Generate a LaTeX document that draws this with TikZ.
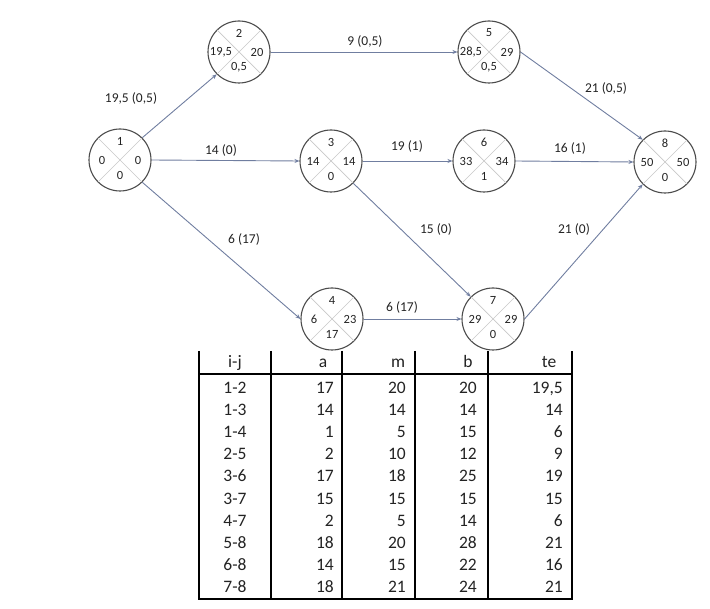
\documentclass[tikz,border=0pt]{standalone}
\usepackage{fontspec}
\setmainfont{Carlito}
\usetikzlibrary{arrows.meta}
\definecolor{edgecol}{RGB}{112,126,160}
\definecolor{circcol}{RGB}{75,75,75}
\definecolor{crosscol}{RGB}{200,200,200}
\definecolor{txtcol}{RGB}{35,35,35}
\tikzset{
  evcirc/.style={circle,draw=circcol,line width=1.1pt,minimum size=62pt,inner sep=0pt},
  evcross/.style={draw=crosscol,line width=0.7pt},
  evtxt/.style={font=\fontsize{12.5}{14}\selectfont,text=txtcol,inner sep=0pt},
  edgelbl/.style={font=\fontsize{13.5}{15}\selectfont,text=txtcol,inner sep=0pt},
  arc/.style={draw=edgecol,line width=0.9pt,-{Stealth[length=5pt,width=4pt]}},
  tabtxt/.style={font=\fontsize{17.5}{20}\selectfont,text=txtcol,inner sep=0pt,anchor=base},
  tabr/.style={tabtxt,anchor=base east},
  tabline/.style={draw=black,line width=1.1pt}
}
\newcommand{\evt}[7]{%
  \node[evcirc] (#1) at (#2,#3) {};
  \draw[evcross] (#1.45) -- (#1.225);
  \draw[evcross] (#1.135) -- (#1.315);
  \node[evtxt] (#1t) at ([yshift=19pt]#1.center) {#4};
  \node[evtxt] (#1l) at ([xshift=-18pt]#1.center) {#5};
  \node[evtxt] (#1r) at ([xshift=18pt]#1.center) {#6};
  \node[evtxt] (#1b) at ([yshift=-15pt]#1.center) {#7};
}
\begin{document}
\begin{tikzpicture}[x=1pt,y=-1pt]
\useasboundingbox (0,0) rectangle (710,609);
% events
\evt{n1}{120}{160}{1}{0}{0}{0}
\evt{n2}{239}{52}{2}{19,5}{20}{0,5}
\evt{n3}{331}{161}{3}{14}{14}{0}
\evt{n4}{332}{319}{4}{6}{23}{17}
\evt{n5}{489}{52}{5}{28,5}{29}{0,5}
\evt{n6}{484}{161}{6}{33}{34}{1}
\evt{n7}{493}{319}{7}{29}{29}{0}
\evt{n8}{665}{162}{8}{50}{50}{0}
% activities
\draw[arc] (n1.north east) -- (n2.south west);
\draw[arc] (n1.east) -- (n3.west);
\draw[arc] (n1.south east) -- (n4.west);
\draw[arc] (n2.east) -- (n5.west);
\draw[arc] (n3.east) -- (n6.west);
\draw[arc] (n3.south east) -- (n7.north west);
\draw[arc] (n4.east) -- (n7.west);
\draw[arc] (n5.east) -- (n8.north west);
\draw[arc] (n6.east) -- (n8.west);
\draw[arc] (n7.east) -- (n8.south west);
% activity labels
\node[edgelbl] (l12) at (131,99) {19,5 (0,5)};
\node[edgelbl] (l25) at (365,42) {9 (0,5)};
\node[edgelbl] (l13) at (221,151) {14 (0)};
\node[edgelbl] (l58) at (606,89) {21 (0,5)};
\node[edgelbl] (l36) at (407,147) {19 (1)};
\node[edgelbl] (l68) at (570,149) {16 (1)};
\node[edgelbl] (l14) at (244,240) {6 (17)};
\node[edgelbl] (l47) at (402,308) {6 (17)};
\node[edgelbl] (l37) at (436,230) {15 (0)};
\node[edgelbl] (l78) at (574,230) {21 (0)};
% table
\coordinate (tl) at (199,351);
\coordinate (c1) at (271,351);
\coordinate (c2) at (342,351);
\coordinate (c3) at (415,351);
\coordinate (c4) at (488,351);
\coordinate (tr) at (572,351);
\coordinate (bl) at (199,599);
\coordinate (b1) at (271,599);
\coordinate (b2) at (342,599);
\coordinate (b3) at (415,599);
\coordinate (b4) at (488,599);
\coordinate (br) at (572,599);
\coordinate (hl) at (199,374);
\coordinate (hr) at (572,374);
\draw[tabline] (tl) -- (bl) -- (br) -- (tr);
\draw[tabline] (c1) -- (b1);
\draw[tabline] (c2) -- (b2);
\draw[tabline] (c3) -- (b3);
\draw[tabline] (c4) -- (b4);
\draw[tabline] (hl) -- (hr);
\node[tabtxt] (h0) at (235,368) {i-j};
\node[tabtxt] (h1) at (323,368) {a};
\node[tabtxt] (h2) at (398,368) {m};
\node[tabtxt] (h3) at (468,368) {b};
\node[tabtxt] (h4) at (549,368) {te};
\foreach \ij/\a/\m/\b/\te [count=\i from 0] in {1-2/17/20/20/{19,5},1-3/14/14/14/14,1-4/1/5/15/6,2-5/2/10/12/9,3-6/17/18/25/19,3-7/15/15/15/15,4-7/2/5/14/6,5-8/18/20/28/21,6-8/14/15/22/16,7-8/18/21/24/21}{
  \pgfmathsetmacro{\ry}{393.5+22.1*\i}
  \node[tabtxt] (r\i c0) at (235,\ry) {\ij};
  \node[tabr] (r\i c1) at (334,\ry) {\a};
  \node[tabr] (r\i c2) at (406,\ry) {\m};
  \node[tabr] (r\i c3) at (477,\ry) {\b};
  \node[tabr] (r\i c4) at (563,\ry) {\te};
}
\end{tikzpicture}
\end{document}
